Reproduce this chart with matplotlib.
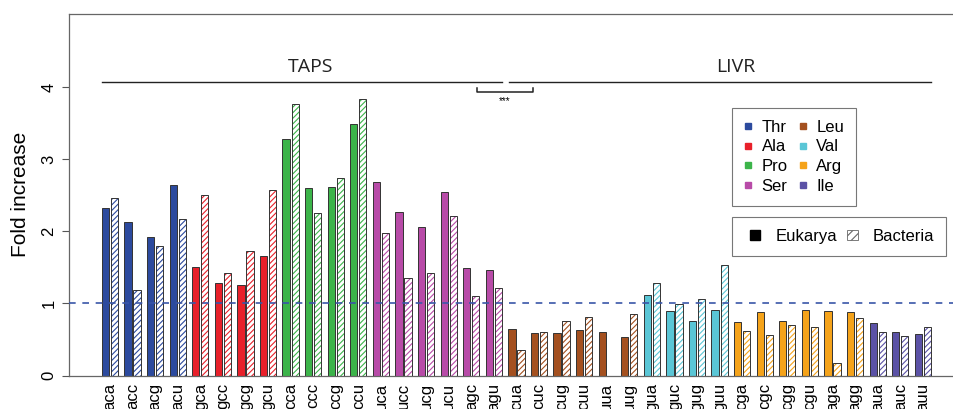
import matplotlib
matplotlib.use('Agg')
import matplotlib.pyplot as plt
from matplotlib.patches import Patch, Rectangle
from matplotlib.lines import Line2D
from matplotlib.legend_handler import HandlerPatch

plt.rcParams['font.family'] = ['Liberation Sans', 'DejaVu Sans']
plt.rcParams['hatch.linewidth'] = 0.8

# codons grouped by amino acid
codons = ['aca', 'acc', 'acg', 'acu',
          'gca', 'gcc', 'gcg', 'gcu',
          'cca', 'ccc', 'ccg', 'ccu',
          'uca', 'ucc', 'ucg', 'ucu', 'agc', 'agu',
          'cua', 'cuc', 'cug', 'cuu', 'uua', 'uug',
          'gua', 'guc', 'gug', 'guu',
          'cga', 'cgc', 'cgg', 'cgu', 'aga', 'agg',
          'aua', 'auc', 'auu']
amino = (['Thr'] * 4 + ['Ala'] * 4 + ['Pro'] * 4 + ['Ser'] * 6 +
         ['Leu'] * 6 + ['Val'] * 4 + ['Arg'] * 6 + ['Ile'] * 3)

eukarya = [2.32, 2.13, 1.92, 2.64,
           1.51, 1.28, 1.26, 1.66,
           3.28, 2.60, 2.62, 3.49,
           2.69, 2.27, 2.06, 2.55, 1.49, 1.47,
           0.65, 0.59, 0.59, 0.63, 0.61, 0.53,
           1.12, 0.90, 0.76, 0.91,
           0.74, 0.88, 0.76, 0.91, 0.89, 0.88,
           0.73, 0.61, 0.57]
bacteria = [2.46, 1.19, 1.80, 2.17,
            2.50, 1.43, 1.73, 2.58,
            3.77, 2.25, 2.74, 3.84,
            1.98, 1.36, 1.42, 2.22, 1.11, 1.22,
            0.35, 0.60, 0.76, 0.81, None, 0.86,
            1.28, 0.99, 1.06, 1.53,
            0.62, 0.56, 0.70, 0.67, 0.17, 0.80,
            0.61, 0.55, 0.67]

aa_names = ['Thr', 'Ala', 'Pro', 'Ser', 'Leu', 'Val', 'Arg', 'Ile']
aa_colors = {'Thr': '#2c4a9e', 'Ala': '#e8202a', 'Pro': '#3cb44a', 'Ser': '#b84ba8',
             'Leu': '#a4501f', 'Val': '#5ac6d6', 'Arg': '#f5a31a', 'Ile': '#5b52a6'}

fig = plt.figure(figsize=(9.54, 4.09), dpi=100)
ax = fig.add_axes([0.0723, 0.0819, 0.9277, 0.8839])

w = 0.32
off = 0.2
edge = '#333333'
for i, cod in enumerate(codons):
    c = aa_colors[amino[i]]
    ax.bar(i - off, eukarya[i], width=w, color=c, edgecolor=edge, linewidth=0.7, zorder=2)
    if bacteria[i] is not None:
        ax.bar(i + off, bacteria[i], width=w, color='white', edgecolor=c,
               hatch='//////', linewidth=0, zorder=2)
        ax.bar(i + off, bacteria[i], width=w, color='none', edgecolor=edge,
               linewidth=0.7, zorder=3)

ax.axhline(1, color='#3a56a8', linestyle=(0, (4, 4)), linewidth=1.2, zorder=4)

ax.set_xlim(-1.816, 37.38)
ax.set_ylim(0, 5.02)
ax.set_xticks(range(len(codons)))
ax.set_xticklabels(codons, rotation=90, fontsize=12, va='top')
ax.tick_params(axis='x', length=0, pad=5)
ax.set_yticks([0, 1, 2, 3, 4])
ax.set_yticklabels(['0', '1', '2', '3', '4'], rotation=90, va='center', fontsize=12)
ax.tick_params(axis='y', length=5, width=0.8, color='#555555', pad=4)
ax.set_ylabel('Fold increase', fontsize=15, labelpad=8)
for s in ['left', 'top', 'bottom']:
    ax.spines[s].set_color('#666666')
    ax.spines[s].set_linewidth(0.9)
ax.spines['right'].set_visible(False)

# group annotations
ax.plot([-0.35, 17.35], [4.08, 4.08], color='#222222', linewidth=1)
ax.plot([17.67, 36.36], [4.08, 4.08], color='#222222', linewidth=1)
ax.text(8.9, 4.16, 'TAPS', ha='center', va='bottom', fontsize=14, family='Open Sans', color='#222222')
ax.text(27.7, 4.16, 'LIVR', ha='center', va='bottom', fontsize=14, family='Open Sans', color='#222222')
ax.plot([16.25, 16.25, 18.73, 18.73], [3.99, 3.94, 3.94, 3.99], color='#222222', linewidth=1.1)
ax.text(17.49, 3.88, '***', ha='center', va='top', fontsize=7)


def small_square(legend, orig_handle, xdescent, ydescent, width, height, fontsize):
    s = 0.62 * fontsize
    return Rectangle((-xdescent + width / 2 - s / 2, -ydescent + height / 2 - s / 2), s, s)


# legends
h1 = [Line2D([], [], marker='s', linestyle='none', markersize=5,
             markerfacecolor=aa_colors[a], markeredgecolor=aa_colors[a], label=a)
      for a in aa_names]
leg1 = fig.legend(handles=h1, loc='upper left', bbox_to_anchor=(0.767, 0.736), ncol=2,
                  fontsize=12, frameon=True, fancybox=False, edgecolor='#555555',
                  handlelength=0.6, handletextpad=0.5, columnspacing=0.6,
                  labelspacing=0.29, borderpad=0.7, borderaxespad=0)
leg1.get_frame().set_linewidth(0.8)
h2 = [Patch(facecolor='black', edgecolor='black', label='Eukarya'),
      Patch(facecolor='white', edgecolor='#666666', hatch='////', linewidth=0.6, label='Bacteria')]
leg2 = fig.legend(handles=h2, loc='upper left', bbox_to_anchor=(0.767, 0.469), ncol=2,
                  fontsize=12, frameon=True, fancybox=False, edgecolor='#555555',
                  handlelength=1.36, handletextpad=0.55, columnspacing=0.25,
                  borderpad=0.7, borderaxespad=0,
                  handler_map={Patch: HandlerPatch(patch_func=small_square)})
leg2.get_frame().set_linewidth(0.8)

fig.savefig('out.png', dpi=100)
